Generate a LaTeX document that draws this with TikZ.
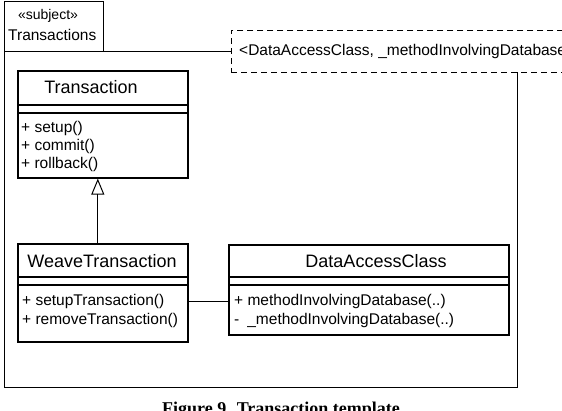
\documentclass[tikz,border=0pt]{standalone}
\usepackage{fontspec}
\setmainfont{Liberation Sans}
\newfontfamily\capfont{Liberation Serif}
\usetikzlibrary{arrows.meta}
\tikzset{
  classbox/.style={draw, line width=1.6pt, anchor=north west, inner sep=0pt},
  pkg/.style={draw, line width=0.9pt},
  tmplbox/.style={draw, fill=white, line width=0.9pt, dash pattern=on 6pt off 4pt, anchor=north west, inner sep=0pt},
  sep/.style={line width=1.6pt},
  nametext/.style={font=\fontsize{18}{21}\selectfont, inner sep=0pt},
  optext/.style={font=\fontsize{15.5}{18}\selectfont, anchor=west, inner sep=0pt},
  gen/.style={-{Triangle[open, length=16pt, width=13pt, line width=1pt]}, line width=1pt},
  assoc/.style={line width=1pt}
}
\begin{document}
\begin{tikzpicture}[x=1pt,y=-1pt]
\useasboundingbox (0,0) rectangle (562,410);
\clip (0,0) rectangle (562,410);
% package
\node[pkg, anchor=north west, minimum width=99pt, minimum height=50pt, inner sep=0pt] (tab) at (4,1) {};
\draw[pkg] (4,51) rectangle (517,387);
\node[font=\fontsize{14}{16}\selectfont, inner sep=0pt] (stereo) at (48,16) {«subject»};
\node[font=\fontsize{15.5}{18}\selectfont, anchor=west, inner sep=0pt] (pkgname) at (8,35) {Transactions};
% template parameter box
\node[tmplbox, minimum width=340pt, minimum height=42pt] (tmpl) at (231,30) {};
\node[optext] (tmpltext) at (239,51) {<DataAccessClass, \_methodInvolvingDatabase(..)>};
% Transaction
\node[classbox, minimum width=170pt, minimum height=107pt] (trans) at (17,70) {};
\node[nametext] (transname) at (91,87) {Transaction};
\draw[sep] (17,105) -- (187,105);
\draw[sep] (17,113) -- (187,113);
\node[optext] (t1) at (21,128) {+ setup()};
\node[optext] (t2) at (21,146) {+ commit()};
\node[optext] (t3) at (21,164) {+ rollback()};
% WeaveTransaction
\node[classbox, minimum width=170pt, minimum height=98pt] (weave) at (17,243) {};
\node[nametext] (weavename) at (102,261) {WeaveTransaction};
\draw[sep] (17,277) -- (187,277);
\draw[sep] (17,285) -- (187,285);
\node[optext] (w1) at (22,301) {+ setupTransaction()};
\node[optext] (w2) at (22,320) {+ removeTransaction()};
% DataAccessClass
\node[classbox, minimum width=280pt, minimum height=90pt] (data) at (228,244) {};
\node[nametext] (dataname) at (376,261) {DataAccessClass};
\draw[sep] (228,277) -- (508,277);
\draw[sep] (228,285) -- (508,285);
\node[optext] (d1) at (234,301) {+ methodInvolvingDatabase(..)};
\node[optext] (d2) at (234,320) {-\hspace{8pt}\_methodInvolvingDatabase(..)};
% connectors
\draw[gen] ([xshift=-5pt]weave.north) -- ([xshift=-5pt]trans.south);
\draw[assoc] (weave.east |- w1) -- (data.west |- w1);
% caption
\node[font=\capfont\bfseries\fontsize{18}{20}\selectfont, anchor=north, inner sep=0pt] (caption) at (281,402) {Figure 9. Transaction template};
\end{tikzpicture}
\end{document}
